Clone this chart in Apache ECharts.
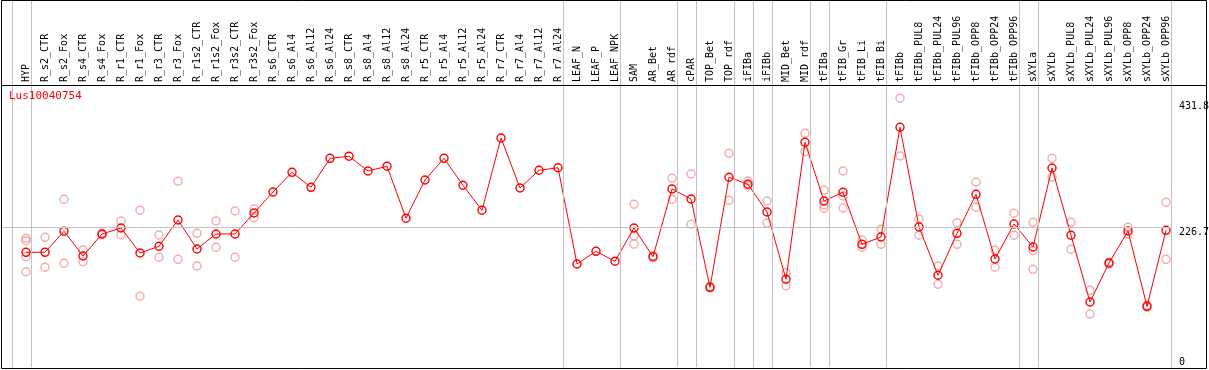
<!DOCTYPE html>
<html><head><meta charset="utf-8">
<script src="https://cdn.jsdelivr.net/npm/echarts@6/dist/echarts.min.js"></script>
<style>html,body{margin:0;padding:0;background:#fff}#c{width:1209px;height:370px}</style>
</head><body><div id="c"></div>
<script>
const geneName = 'Lus10040754';
const categories = ['HYP','R_s2_CTR','R_s2_Fox','R_s4_CTR','R_s4_Fox','R_r1_CTR','R_r1_Fox','R_r3_CTR','R_r3_Fox','R_r1s2_CTR','R_r1s2_Fox','R_r3s2_CTR','R_r3s2_Fox','R_s6_CTR','R_s6_Al4','R_s6_Al12','R_s6_Al24','R_s8_CTR','R_s8_Al4','R_s8_Al12','R_s8_Al24','R_r5_CTR','R_r5_Al4','R_r5_Al12','R_r5_Al24','R_r7_CTR','R_r7_Al4','R_r7_Al12','R_r7_Al24','LEAF_N','LEAF_P','LEAF_NPK','SAM','AR_Bet','AR_rdf','cPAR','TOP_Bet','TOP_rdf','iFIBa','iFIBb','MID_Bet','MID_rdf','tFIBa','tFIB_Gr','tFIB_Li','tFIB_Bi','tFIBb','tFIBb_PUL8','tFIBb_PUL24','tFIBb_PUL96','tFIBb_OPP8','tFIBb_OPP24','tFIBb_OPP96','sXYLa','sXYLb','sXYLb_PUL8','sXYLb_PUL24','sXYLb_PUL96','sXYLb_OPP8','sXYLb_OPP24','sXYLb_OPP96'];
const means = [186.7,186.7,220.9,180.7,216.5,226.3,185.6,196.5,239.3,192.1,216.5,216.5,250.7,284.9,316.9,292.5,339.7,343.0,319.1,326.7,242.1,304.4,339.7,295.8,255.1,372.8,291.4,320.2,324.4,167.7,188.3,172.1,226.3,179.6,289.8,273.5,129.7,308.8,297.4,252.3,142.8,365.8,270.2,284.4,199.7,211.6,390.2,227.9,149.3,217.6,281.1,175.8,232.8,195.3,323.9,214.4,105.8,169.3,221.4,98.8,222.5];
const replicates = [
  [209.5,205.6,179.6,155.1],[211.1,162.3],[273.0,168.8],[190.5,171.4],[218,215],
  [237.7,215.4],[255.1,115.1],[214.9,178.6],[302.3,175.3],[217.6,164.4],
  [237.7,194.9],[254.0,178.6],[257.2,243.0],
  [],[],[],[],[],[],[],[],[],[],[],[],[],[],[],[],[],[],[],
  [264.9,213.7,200.0],[181,178],[307.2,273.0],[314.2,232.3],[131,128.5],[347.9,271.4],
  [302.8,295.1],[270.2,234.4],[153.5,132.3],[380.4,350.5],[288.1,258.3,263.7],
  [319.1,278.4,258.8],[206.7,194.9],[224.2,199.7],[437.4,343.5],[240.9,214.4],
  [164.4,134.6],[234.9,199.7],[300.7,260.0],[190.0,162.3],[250.2,214.4],
  [235.6,189.3,159.0],[339.7,308.8],[235.6,191.6],[124.9,86.3],[171,167.5],
  [227.4,216.5],[100.9,97.2],[268.1,175.3]
];
const groupEnds = [-1,0,28,31,34,35,37,38,39,41,42,45,52,53,60];
const yTickValues = [0, 226.7, 431.8];
const midLineValue = 226.7;

const FONT = 'DejaVu Sans Mono';

const meanData = means.map((v, i) => [i, v]);
const repData = [];
replicates.forEach((arr, i) => arr.forEach(v => repData.push([i, v])));

const chart = echarts.init(document.getElementById('c'), null, {renderer: 'canvas'});
chart.setOption({
  animation: false,
  backgroundColor: '#fff',
  title: {
    text: geneName, left: 9, top: 91, padding: 0,
    textStyle: {color: '#ff0000', fontSize: 11, fontFamily: FONT, fontWeight: 'normal'}
  },
  grid: {left: 1, right: 37, top: 0, bottom: 3, containLabel: false, outerBoundsMode: 'none'},
  xAxis: {
    type: 'value', position: 'top', offset: -86,
    min: -25 / 19, max: 1146 / 19,
    axisLine: {show: false}, axisTick: {show: false}, splitLine: {show: false},
    axisLabel: {
      customValues: categories.map((c, i) => i),
      formatter: v => categories[Math.round(v)] || '',
      rotate: 90, margin: 4, fontSize: 10, fontFamily: FONT, color: '#000'
    }
  },
  yAxis: [{
    type: 'value', position: 'right', min: 0, max: 597.4,
    axisLine: {show: false}, axisTick: {show: false}, splitLine: {show: false},
    axisLabel: {customValues: yTickValues.slice(1), verticalAlign: 'top', margin: 7,
      fontSize: 10, fontFamily: FONT, color: '#000'}
  }, {
    type: 'value', position: 'right', min: 0, max: 597.4,
    axisLine: {show: false}, axisTick: {show: false}, splitLine: {show: false},
    axisLabel: {customValues: yTickValues.slice(0, 1), verticalAlign: 'bottom', margin: 7,
      fontSize: 10, fontFamily: FONT, color: '#000'}
  }],
  series: [{
    type: 'scatter', data: repData, symbol: 'circle', symbolSize: 8, z: 2,
    itemStyle: {color: 'rgba(0,0,0,0)', borderColor: '#f09595', borderWidth: 1.4},
    markLine: {
      silent: true, symbol: 'none', label: {show: false},
      lineStyle: {color: '#c3c3c3', width: 1, type: 'solid'},
      data: groupEnds.map(i => ({xAxis: i + 0.25})).concat([{yAxis: midLineValue}])
    }
  }, {
    type: 'line', data: meanData, symbol: 'circle', symbolSize: 8, showAllSymbol: true, z: 3,
    lineStyle: {color: '#ff0000', width: 1},
    itemStyle: {color: 'rgba(0,0,0,0)', borderColor: '#ff0000', borderWidth: 1.4}
  }],
  graphic: [
    {type: 'rect', z: 100, silent: true, shape: {x: 1.5, y: 0.5, width: 1205, height: 368},
      style: {fill: 'none', stroke: '#000', lineWidth: 1}},
    {type: 'line', z: 100, silent: true, shape: {x1: 1.5, y1: 85.5, x2: 1206.5, y2: 85.5},
      style: {stroke: '#000', lineWidth: 1}}
  ]
});
</script>
</body></html>
